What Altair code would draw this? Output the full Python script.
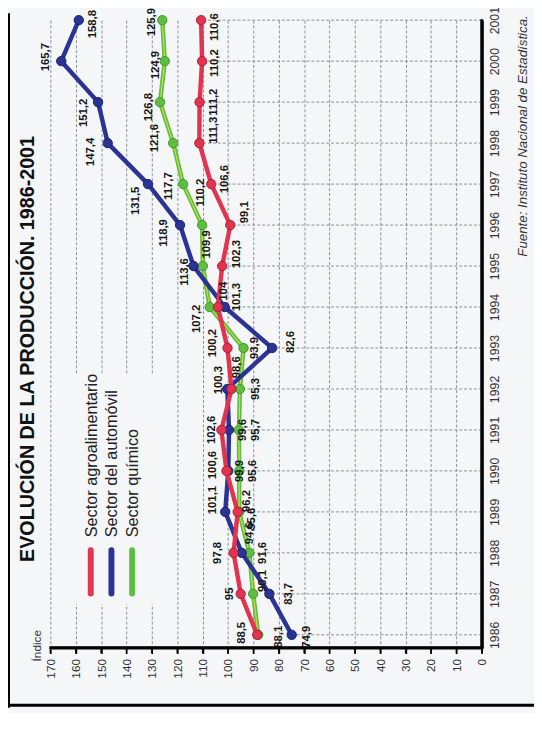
import altair as alt
import pandas as pd

# ---------------- data ----------------
YEARS = list(range(1986, 2002))
SERIES = ["Sector agroalimentario", "Sector del automóvil", "Sector químico"]
AGRO = [88.5, 95, 97.8, 96.2, 100.6, 102.6, 98.6, 100.2, 104, 102.3, 99.1, 106.6, 111.3, 111.2, 110.2, 110.6]
AUTO = [74.9, 83.7, 94.6, 101.1, 99.9, 99.6, 100.3, 82.6, 101.3, 113.6, 118.9, 131.5, 147.4, 151.2, 165.7, 158.8]
QUIM = [88.1, 90.1, 91.6, 95.6, 95.6, 95.7, 95.3, 93.9, 107.2, 109.9, 110.2, 117.7, 121.6, 126.8, 124.9, 125.9]
INDEX_TICKS = list(range(0, 171, 10))
TITLE = "EVOLUCIÓN DE LA PRODUCCIÓN. 1986-2001"
SOURCE = "Fuente: Instituto Nacional de Estadística."
AXIS_TITLE = "Índice"

# ---------------- styles ----------------
COLORS = ["#e2334f", "#2b3394", "#5fbd42"]
EDGES = ["#b01e3a", "#1a216e", "#3e9a2a"]
BG = "#f4f6f8"
GRID = "#8a8f96"

# label nudges in screen px (dx: right +, dy: down +)
AGRO_DX = [-15, -11, -16, 10, -14, -10, 6, -15, 6, 15, 15, 14, 15, 15, 13, 14]
AGRO_DY = [-2, 0, 0, -11, -6, 0, -22, -5, -16, -12, -13, -5, -13, 0, 2, 7]
AUTO_DX = [16, 20, 8, -12, 12, 14, -8, 19, 13, -9, -16, -12, -17, -14, -15, 14]
AUTO_DY = [2, 0, -20, -12, 0, 0, -9, -6, -10, 6, 8, 17, 9, 11, -4, 4]
QUIM_DX = [21, 10, 14, 13, 14, 17, 16, 12, -13, 4, -1, -14, -18, -11, -9, -10]
QUIM_DY = [2, -13, 0, 7, 0, 0, 0, 0, 12, -22, -33, 2, -5, 5, 4, 2]

W, H = 438, 637
X_DOMAIN = [0, 170]
Y_DOMAIN = [1985.6875, 2001]
PX_PER_X = W / (X_DOMAIN[1] - X_DOMAIN[0])
PX_PER_Y = H / (Y_DOMAIN[1] - Y_DOMAIN[0])

rows = []
for s, vals, dxs, dys in zip(SERIES, [AGRO, AUTO, QUIM],
                             [AGRO_DX, AUTO_DX, QUIM_DX], [AGRO_DY, AUTO_DY, QUIM_DY]):
    for yr, v, dx, dy in zip(YEARS, vals, dxs, dys):
        rows.append({"serie": s, "year": yr, "value": v,
                     "label": f"{v:g}".replace(".", ","), "ox": dx, "oy": dy})
df = pd.DataFrame(rows)

xscale = alt.Scale(domain=X_DOMAIN, reverse=True, nice=False, zero=True)
yscale = alt.Scale(domain=Y_DOMAIN, nice=False, zero=False)

x_axis = alt.Axis(values=INDEX_TICKS, format="d", orient="bottom", title=None,
                  labelAngle=270, labelAlign="right", labelBaseline="middle",
                  labelFontSize=12, labelColor="#333333", labelPadding=5,
                  tickSize=6, tickColor="black", tickWidth=1.5,
                  domain=True, domainColor="black", domainWidth=3,
                  grid=True, gridColor=GRID, gridDash=[3, 2], gridWidth=1)
y_axis = alt.Axis(values=YEARS, format="d", orient="right", title=None,
                  labelAngle=270, labelAlign="center", labelBaseline="top",
                  labelFontSize=12.5, labelColor="#333333", labelPadding=7,
                  ticks=False, domain=True, domainColor="black", domainWidth=3,
                  grid=False)


def X(field):
    return alt.X(field, scale=xscale, axis=x_axis)


def Y(field):
    return alt.Y(field, scale=yscale, axis=y_axis)


base = alt.Chart(df)
one_row = pd.DataFrame({"a": [0]})

hgrid = base.transform_aggregate(
    minv="min(value)", groupby=["year"]
).transform_calculate(zero="0").mark_rule(
    color=GRID, strokeDash=[3, 2], strokeWidth=1
).encode(
    y=Y("year:Q"),
    x=X("zero:Q"),
    x2="minv:Q",
)

legend_box = alt.Chart(one_row).mark_rect(color=BG).encode(
    x=alt.value(9), x2=alt.value(114), y=alt.value(360), y2=alt.value(593)
)

# solid axis bars (drawn as thin rectangles)
axis_v = alt.Chart(one_row).mark_rect(color="black").encode(
    x=alt.value(W - 1.5), x2=alt.value(W + 1.5), y=alt.value(-1), y2=alt.value(H + 1.5))
axis_h = alt.Chart(one_row).mark_rect(color="black").encode(
    x=alt.value(-1), x2=alt.value(W + 1.5), y=alt.value(H - 1.5), y2=alt.value(H + 1.5))
tick_df = pd.DataFrame({"t": INDEX_TICKS})
ticks = alt.Chart(tick_df).mark_rule(color="black", strokeWidth=1.5).encode(
    x=X("t:Q"), y=alt.value(H), y2=alt.value(H + 6))

layers = [hgrid, legend_box]

# draw order: green, blue, red (red on top)
for idx in [2, 1, 0]:
    s = SERIES[idx]
    sub = base.transform_filter(alt.datum.serie == s)
    layers.append(sub.mark_line(color=COLORS[idx], strokeWidth=4.5, strokeJoin="round").encode(
        x=X("value:Q"), y=Y("year:Q"), order="year:Q"))
    if idx == 2:
        layers.append(sub.mark_line(color="#e6ee4e", strokeWidth=1.2, opacity=0.75).encode(
            x=X("value:Q"), y=Y("year:Q"), order="year:Q"))
    layers.append(sub.mark_point(filled=True, size=90, shape="circle", fill=COLORS[idx],
                                 stroke=EDGES[idx], strokeWidth=1, opacity=1).encode(
        x=X("value:Q"), y=Y("year:Q")))

labels = base.transform_calculate(
    lx=f"datum.value - datum.ox / {PX_PER_X}",
    ly=f"datum.year - datum.oy / {PX_PER_Y}",
).mark_text(angle=270, align="center", baseline="middle",
            fontSize=11.5, fontWeight="bold", color="#151515").encode(
    x=X("lx:Q"), y=Y("ly:Q"), text="label:N",
)
layers.append(labels)
layers += [axis_v, axis_h, ticks]

# legend (manual, rotated)
LEG_X = [41, 62, 83]
for i, s in enumerate(SERIES):
    one = alt.Chart(pd.DataFrame({"t": [s]}))
    layers.append(one.mark_rule(color=COLORS[i], strokeWidth=6, strokeCap="round").encode(
        x=alt.value(LEG_X[i]), y=alt.value(538), y2=alt.value(582)))
    layers.append(one.mark_text(angle=270, align="left", baseline="middle",
                                fontSize=16.5, color="#222222").encode(
        x=alt.value(LEG_X[i] + 1), y=alt.value(525), text="t:N"))

title = alt.Chart(pd.DataFrame({"t": [TITLE]})).mark_text(
    angle=270, align="left", baseline="middle", fontSize=20, fontWeight="bold",
    color="#111111").encode(x=alt.value(-23), y=alt.value(550), text="t:N")
ylabel = alt.Chart(pd.DataFrame({"t": [AXIS_TITLE]})).mark_text(
    angle=270, align="center", baseline="middle", fontSize=12,
    color="#333333").encode(x=alt.value(-14), y=alt.value(635), text="t:N")
source = alt.Chart(pd.DataFrame({"t": [SOURCE]})).mark_text(
    angle=270, align="right", baseline="middle", fontSize=13.5, fontStyle="italic",
    color="#333333").encode(x=alt.value(480), y=alt.value(-5), text="t:N")

frame_left = alt.Chart(one_row).mark_rule(color="black", strokeWidth=2).encode(
    x=alt.value(-42), y=alt.value(-7), y2=alt.value(698))
frame_bottom = alt.Chart(one_row).mark_rule(color="black", strokeWidth=3).encode(
    x=alt.value(-43), x2=alt.value(491), y=alt.value(695.5))

layers += [title, ylabel, source, frame_left, frame_bottom]

chart = alt.layer(*layers).properties(
    width=W, height=H,
    autosize=alt.AutoSizeParams(type="none"),
    padding={"left": 43, "top": 7, "right": 53, "bottom": 61},
    background=BG,
).configure(font="Liberation Sans").configure_view(strokeWidth=0)

chart.save("out.html", embed_options={"renderer": "svg", "actions": False})
